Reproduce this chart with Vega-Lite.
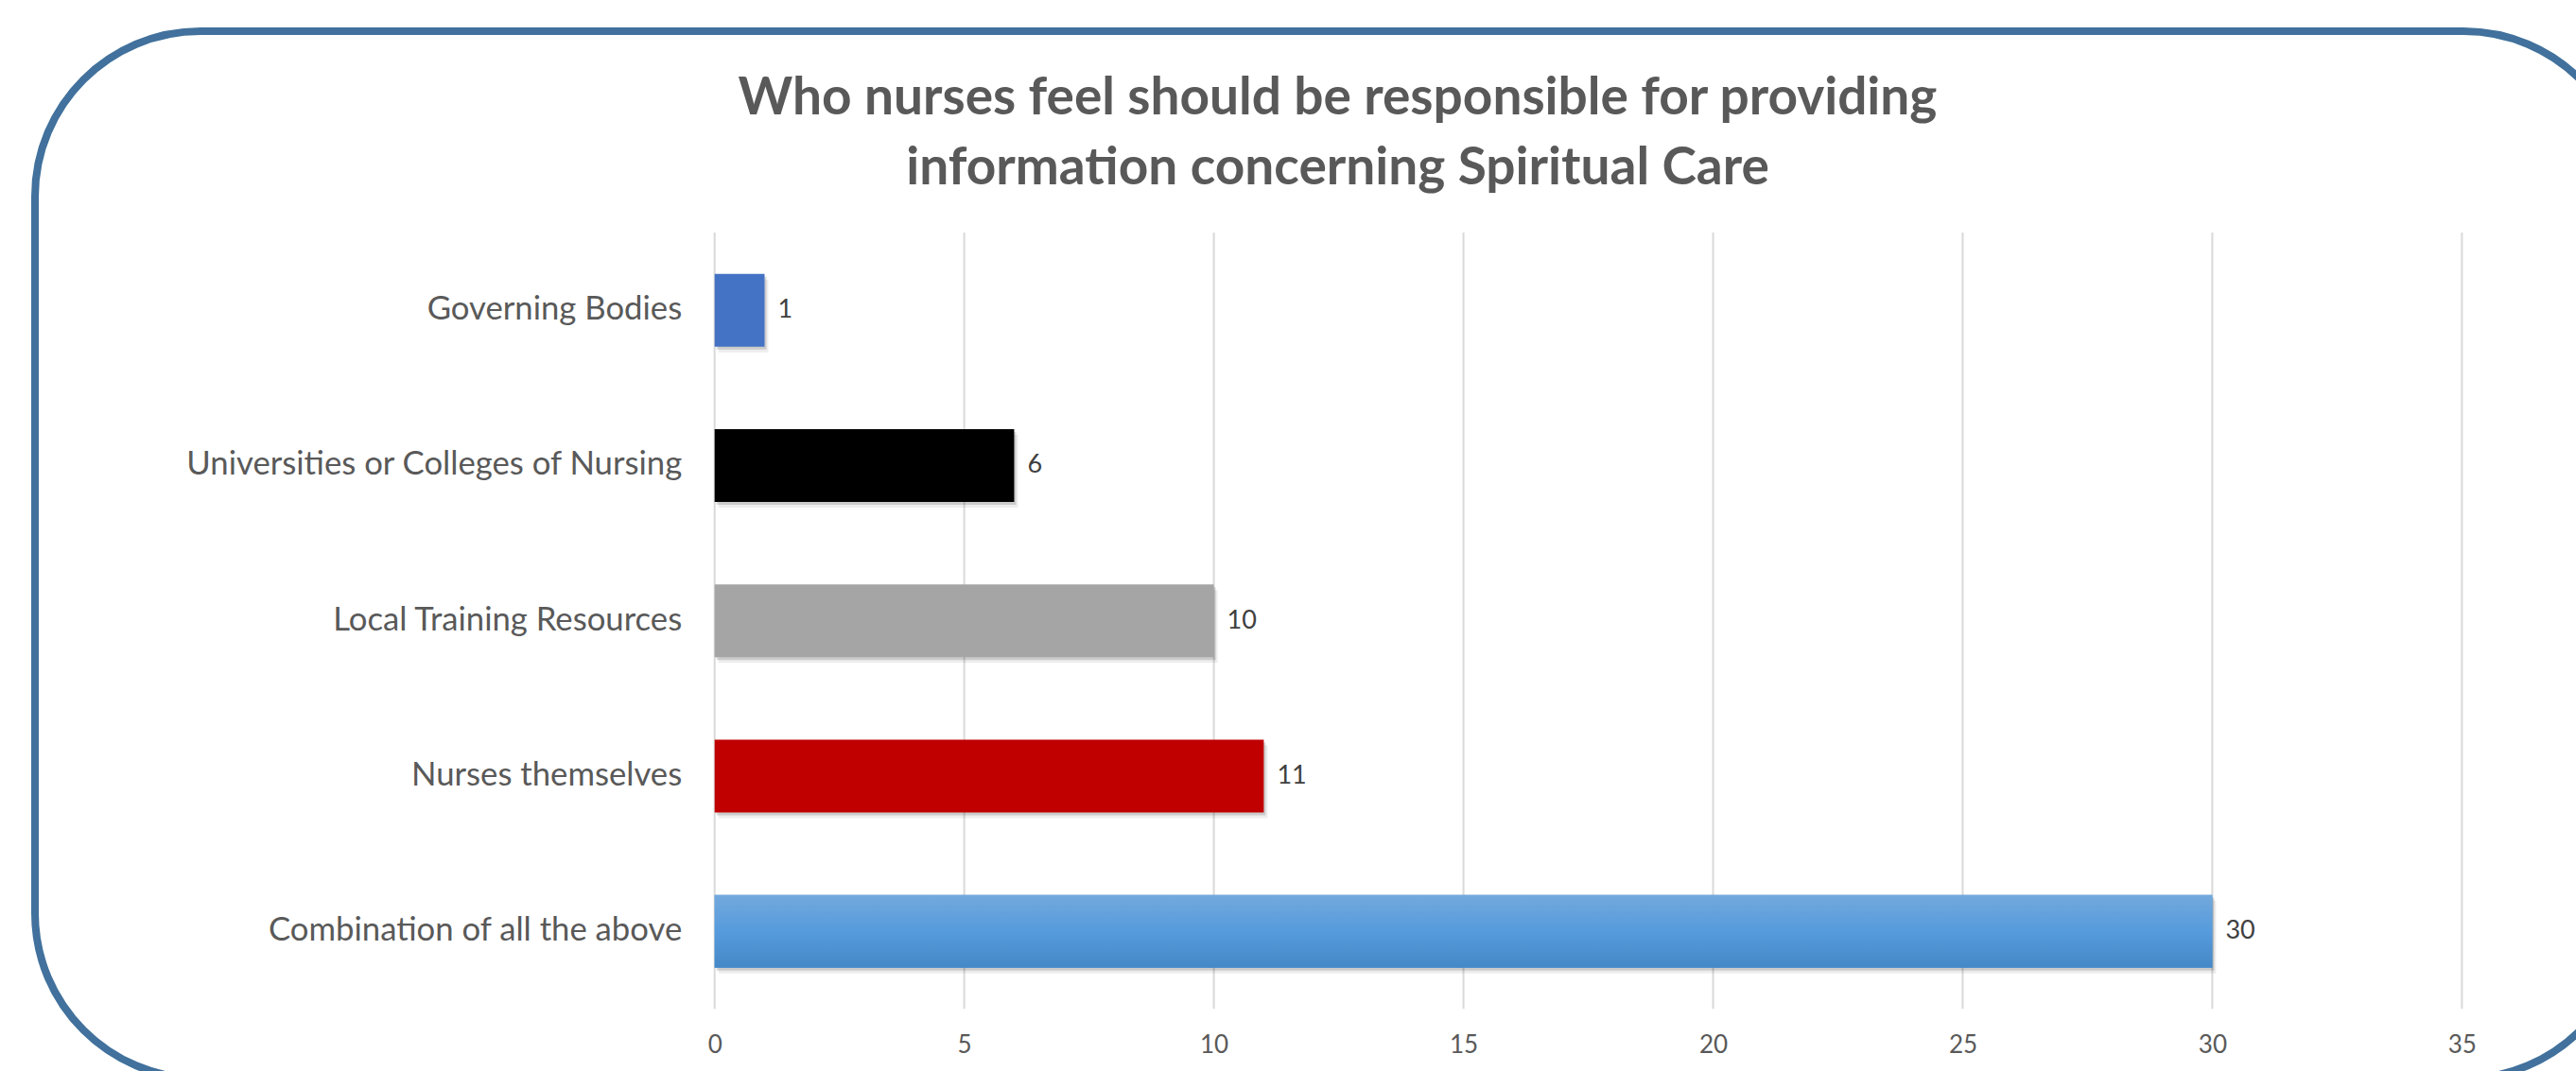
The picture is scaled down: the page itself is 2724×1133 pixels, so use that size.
{
  "$schema": "https://vega.github.io/schema/vega-lite/v6.json",
  "width": 2743,
  "height": 1108,
  "autosize": {"type": "none"},
  "padding": {"left": 37, "top": 33, "right": -56, "bottom": -8},
  "background": "white",
  "title": {
    "text": ["Who nurses feel should be responsible for providing", "information concerning Spiritual Care"],
    "font": "Lato",
    "fontSize": 55,
    "fontWeight": "bold",
    "color": "#595959",
    "lineHeight": 74,
    "anchor": "middle",
    "frame": "group",
    "baseline": "top",
    "offset": -174,
    "dx": 6
  },
  "config": {
    "view": {"stroke": "#41719c", "strokeWidth": 8, "cornerRadius": 175, "fill": "white"},
    "font": "Lato"
  },
  "datasets": {
    "sources": [
      {"source": "Governing Bodies", "count": 1},
      {"source": "Universities or Colleges of Nursing", "count": 6},
      {"source": "Local Training Resources", "count": 10},
      {"source": "Nurses themselves", "count": 11},
      {"source": "Combination of all the above", "count": 30}
    ],
    "ticks": [
      {"tick": 0}, {"tick": 5}, {"tick": 10}, {"tick": 15},
      {"tick": 20}, {"tick": 25}, {"tick": 30}, {"tick": 35}
    ]
  },
  "layer": [
    {
      "data": {"name": "ticks"},
      "mark": {"type": "rule", "color": "#d9d9d9", "strokeWidth": 2},
      "encoding": {
        "x": {"field": "tick", "type": "quantitative",
              "scale": {"domain": [-13.614, 38.346], "zero": false, "nice": false}},
        "y": {"datum": "Governing Bodies", "type": "nominal", "bandPosition": 0},
        "y2": {"datum": "Combination of all the above", "bandPosition": 1}
      }
    },
    {
      "data": {"name": "sources"},
      "mark": {"type": "bar", "color": "#000000", "opacity": 0.07, "height": {"band": 0.469},
               "xOffset": 4, "x2Offset": 4, "yOffset": 6, "y2Offset": 6},
      "encoding": {
        "x": {"field": "count", "type": "quantitative"},
        "y": {"field": "source", "type": "nominal"}
      }
    },
    {
      "data": {"name": "sources"},
      "mark": {"type": "bar", "color": "#000000", "opacity": 0.14, "height": {"band": 0.469},
               "xOffset": 2, "x2Offset": 2, "yOffset": 3, "y2Offset": 3},
      "encoding": {
        "x": {"field": "count", "type": "quantitative"},
        "y": {"field": "source", "type": "nominal"}
      }
    },
    {
      "data": {"name": "sources"},
      "mark": {"type": "bar", "height": {"band": 0.469}},
      "encoding": {
        "x": {"field": "count", "type": "quantitative",
              "scale": {"domain": [-13.614, 38.346], "zero": false, "nice": false},
              "axis": {"orient": "bottom", "values": [0, 5, 10, 15, 20, 25, 30, 35], "grid": false,
                       "ticks": false, "tickSize": 0, "domain": false, "labelPadding": 0,
                       "labelBaseline": "middle", "offset": -36, "labelFontSize": 26,
                       "labelColor": "#595959", "labelFont": "Lato", "title": null}},
        "y": {"field": "source", "type": "nominal",
              "scale": {"domain": ["Governing Bodies", "Universities or Colleges of Nursing", "Local Training Resources", "Nurses themselves", "Combination of all the above"],
                        "paddingInner": 0, "paddingOuter": 0.873, "align": 0.743},
              "axis": {"orient": "left", "offset": -718.7, "labelPadding": 35, "ticks": false, "tickSize": 0,
                       "domain": false, "grid": false, "labelFontSize": 34.7, "labelColor": "#595959",
                       "labelFont": "Lato", "labelLimit": 0, "title": null}},
        "color": {"field": "source", "type": "nominal", "legend": null,
                  "scale": {"domain": ["Governing Bodies", "Universities or Colleges of Nursing", "Local Training Resources", "Nurses themselves", "Combination of all the above"],
                            "range": ["#4472c4", "#000000", "#a5a5a5", "#c00000", "#5b9bd5"]}}
      }
    },
    {
      "data": {"name": "sources"},
      "transform": [{"filter": "datum.source === 'Combination of all the above'"}],
      "mark": {"type": "bar", "height": {"band": 0.469},
               "color": {"gradient": "linear", "x1": 0, "y1": 0, "x2": 0, "y2": 1,
                         "stops": [{"offset": 0, "color": "#73a9dd"}, {"offset": 0.5, "color": "#569bdc"}, {"offset": 1, "color": "#4588c8"}]}},
      "encoding": {
        "x": {"field": "count", "type": "quantitative"},
        "y": {"field": "source", "type": "nominal"}
      }
    },
    {
      "data": {"name": "sources"},
      "mark": {"type": "text", "align": "left", "baseline": "middle", "dx": 14, "fontSize": 27, "color": "#404040", "font": "Lato"},
      "encoding": {
        "x": {"field": "count", "type": "quantitative"},
        "y": {"field": "source", "type": "nominal"},
        "text": {"field": "count", "type": "quantitative"}
      }
    }
  ]
}
